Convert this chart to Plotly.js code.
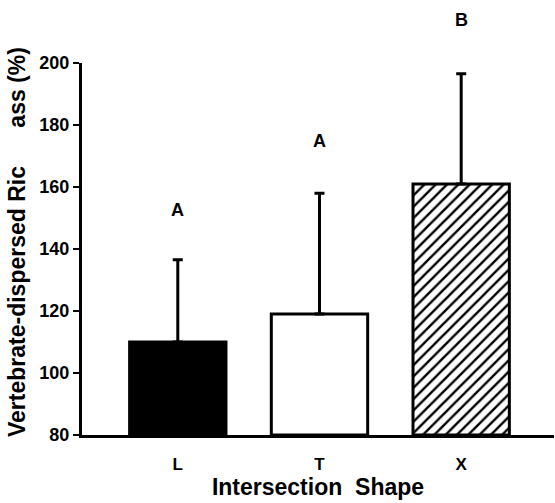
<!DOCTYPE html>
<html>
<head>
<meta charset="utf-8">
<script src="https://cdn.plot.ly/plotly-3.0.1.min.js"></script>
<style>html,body{margin:0;padding:0;background:#fff;}#chart{width:555px;height:503px;}</style>
</head>
<body>
<div id="chart"></div>
<script>
// Data
const categories = ['L', 'T', 'X'];
const meanValues = [110, 119, 161];
const errorUpper = [26.5, 39, 35.5];
const groupLetters = ['A', 'A', 'B'];
const letterHeights = [152.5, 175, 214];
const yTickValues = [80, 100, 120, 140, 160, 180, 200];
const fills = ['#000000', '#ffffff', '#ffffff'];
const hatches = ['', '', '/'];
const yTitle = 'Vertebrate-dispersed Ric      ass (%)';
const xTitle = 'Intersection  Shape';

const fontFam = 'Liberation Sans, Arial, Helvetica, sans-serif';
const yMin = 80, yMax = 200;

const traces = categories.map((c, i) => ({
  type: 'bar',
  x: [c],
  y: [meanValues[i] - yMin],
  base: yMin,
  width: 0.68,
  marker: {
    color: fills[i],
    line: {color: '#000000', width: 3},
    pattern: hatches[i] ? {shape: hatches[i], fgcolor: '#000000', bgcolor: '#ffffff', size: 8, solidity: 0.3} : undefined
  },
  error_y: {
    type: 'data', symmetric: false,
    array: [errorUpper[i]], arrayminus: [0],
    color: '#000000', thickness: 3, width: 5
  },
  hoverinfo: 'none'
}));

const annotations = categories.map((c, i) => ({
  x: c, xref: 'x', xanchor: 'center',
  y: (letterHeights[i] - yMin) / (yMax - yMin), yref: 'paper', yanchor: 'middle',
  text: groupLetters[i], showarrow: false,
  font: {family: fontFam, size: 18, color: '#000', weight: 'bold'}
}));
annotations.push({
  x: 0, xref: 'paper', xanchor: 'center', xshift: -65,
  y: 0.5, yref: 'paper', yanchor: 'middle', yshift: 7,
  textangle: -90, text: yTitle, showarrow: false,
  font: {family: fontFam, size: 23, color: '#000', weight: 'bold'}
});

const layout = {
  width: 555, height: 503,
  margin: {l: 82, r: 1, t: 63, b: 68},
  paper_bgcolor: '#fff', plot_bgcolor: '#fff',
  showlegend: false,
  barmode: 'overlay',
  xaxis: {
    type: 'category',
    range: [-0.676, 2.655],
    showline: true, linecolor: '#000', linewidth: 3,
    ticks: '', showgrid: false, zeroline: false,
    tickfont: {family: fontFam, size: 17, color: '#000', weight: 'bold'},
    ticklabelstandoff: 12,
    title: {text: xTitle, font: {family: fontFam, size: 23, color: '#000', weight: 'bold'}, standoff: 4}
  },
  yaxis: {
    range: [yMin, yMax],
    tickvals: yTickValues,
    ticktext: yTickValues.map(String),
    showline: true, linecolor: '#000', linewidth: 3,
    ticks: 'outside', ticklen: 6, tickwidth: 2, tickcolor: '#000',
    showgrid: false, zeroline: false,
    tickfont: {family: fontFam, size: 18, color: '#000', weight: 'bold'}
  },
  annotations: annotations
};

Plotly.newPlot('chart', traces, layout, {displayModeBar: false, staticPlot: true});
</script>
</body>
</html>
